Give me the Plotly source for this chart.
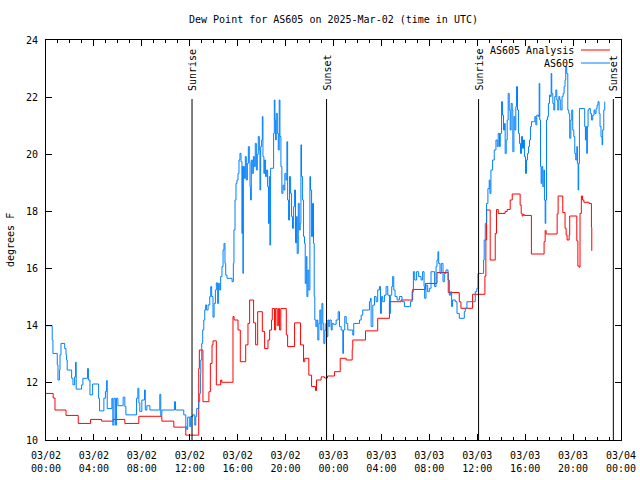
import plotly.graph_objects as go

# ---------------- data (hours since 2025-03-02 00:00 UTC) ----------------
obs_hours = [
    0, 0.52, 0.58, 0.94, 1.0, 1.12, 1.17, 1.25, 1.56, 1.67, 1.72, 1.77, 2.14, 2.25, 2.39, 2.47, 2.52,
    2.97, 3.08, 3.47, 3.54, 3.67, 3.89, 4.39, 4.47, 4.83, 4.96, 5.06, 5.11, 5.5, 5.58, 5.67, 5.79,
    5.88, 6.0, 6.44, 6.58, 6.67, 7.56, 7.67, 7.75, 7.83, 8.0, 8.22, 8.29, 8.42, 8.67, 9.5, 9.58,
    9.67, 10.72, 10.81, 11.5, 11.67, 11.75, 11.83, 12.0, 12.08, 12.25, 12.42, 12.5, 12.58, 12.75,
    12.83, 12.89, 12.92, 13.0, 13.08, 13.17, 13.25, 13.33,
    13.39, 13.53, 13.67, 13.75, 13.83, 13.94, 14.03, 14.14, 14.22, 14.33, 14.39, 14.5, 14.58, 14.69,
    14.78, 14.86, 14.94, 15.0, 15.11, 15.53, 15.64, 15.69, 15.78, 15.86, 15.94, 16.03, 16.11, 16.19,
    16.28, 16.36, 16.39, 16.44, 16.47, 16.56, 16.64, 16.72, 16.81, 16.89, 16.97, 17.03, 17.08, 17.14,
    17.22, 17.31, 17.39, 17.47, 17.56, 17.64, 17.72, 17.81, 17.86, 17.92, 18.0, 18.06, 18.11, 18.19,
    18.25, 18.33, 18.42, 18.5, 18.58, 18.64, 18.69, 18.75, 18.94, 19.0, 19.06, 19.11, 19.17, 19.22,
    19.31, 19.39, 19.47, 19.53, 19.61, 19.69, 19.78, 19.86, 19.94, 20.03, 20.11, 20.17, 20.25, 20.33,
    20.42, 20.5, 20.58, 20.67, 20.75, 20.83, 20.92, 20.97, 21.06, 21.14, 21.22, 21.28, 21.33, 21.42,
    21.5, 21.58, 21.64, 21.72, 21.78, 21.86, 21.94, 22.03, 22.08, 22.17, 22.25, 22.33, 22.39, 22.44,
    22.53, 22.61, 22.69, 22.78, 22.86, 22.94, 23.03, 23.11, 23.19, 23.28, 23.36, 23.44, 23.53, 23.61,
    23.69, 23.81, 23.89, 24.0,
    24.22, 24.39, 24.5, 24.64, 24.78, 24.83, 24.94, 25.06, 25.19, 25.56, 25.61, 25.69, 26.17, 26.31,
    26.44, 26.94, 27.0, 27.08, 27.14, 27.28, 27.42, 27.56, 27.69, 27.83, 27.92, 28.0, 28.11, 28.25,
    28.39, 28.53, 28.67, 28.75, 28.86, 28.94, 29.03, 29.14, 29.31, 29.5, 29.72, 29.92, 30.33, 30.42,
    30.56, 30.67, 30.78, 30.94, 31.11, 31.31, 31.44, 31.56, 31.61, 31.72, 31.86, 32.0, 32.14, 32.33,
    32.44, 32.56, 32.64, 32.72, 32.78, 32.89, 33.0, 33.14, 33.25, 33.39, 33.56, 33.67, 33.78, 33.86,
    33.94, 34.17, 34.31, 34.5, 34.92, 35.0, 35.14, 35.75, 35.83, 35.97, 36.06, 36.44, 36.53,
    36.58, 36.67, 36.78, 36.89, 37.0, 37.06, 37.14, 37.28, 37.42, 37.56, 37.67, 37.75, 37.86, 37.92,
    38.03, 38.11, 38.19, 38.28, 38.33, 38.42, 38.5, 38.58, 38.67, 38.75, 38.83, 38.92, 38.97, 39.06,
    39.14, 39.22, 39.28, 39.36, 39.44, 39.53, 39.61, 39.69, 39.78, 39.86, 39.94, 40.03, 40.11, 40.19,
    40.28, 40.36, 40.44, 40.53, 40.72, 40.81, 40.89, 40.97, 41.11, 41.17, 41.22, 41.28, 41.33, 41.39,
    41.47, 41.56, 41.61, 41.67, 41.72, 41.78, 41.86, 41.94, 42.03, 42.11, 42.17, 42.22, 42.31, 42.39,
    42.47, 42.56, 42.64, 42.72, 42.81, 42.89, 42.97, 43.08, 43.17, 43.25, 43.33, 43.39, 43.47, 43.56,
    43.64, 43.72, 43.81, 43.89, 43.97, 44.06, 44.14, 44.22, 44.31, 44.36, 44.42, 44.47, 44.53, 44.92,
    44.97, 45.03, 45.08, 45.14, 45.19, 45.25, 45.33, 45.44, 45.53, 45.64, 45.75, 45.83, 45.92, 46.0,
    46.08, 46.17, 46.25, 46.33, 46.42, 46.47, 46.56, 46.64,
]
obs_dewpoint = [
    14.0, 13.5, 13.03, 12.63, 12.1, 12.45, 12.98, 13.38, 13.2, 12.98, 12.8, 12.45, 12.16, 11.93, 12.21, 12.72, 11.78,
    11.93, 12.16, 12.5, 12.1, 11.58, 11.96, 11.46, 11.02, 11.46, 11.7, 12.08, 11.1, 11.46, 10.52, 11.46, 10.52,
    11.46, 11.2, 11.5, 11.17, 10.88, 11.46, 11.81, 11.3, 11.0, 11.4, 11.75, 11.05, 11.2, 11.05, 11.6, 10.85,
    11.05, 11.34, 11.05, 10.88, 10.47, 10.37, 10.8, 10.47, 10.82, 10.88, 10.52, 10.82, 11.1, 11.34,
    11.63, 12.33, 12.8, 13.38, 13.85, 14.2, 14.55, 14.73,
    14.55, 14.73, 15.02, 15.37, 15.02, 14.3, 14.78, 15.25, 15.5, 14.78, 15.48, 15.25, 15.72, 16.07,
    16.65, 16.88, 16.18, 15.77, 15.66, 15.54, 16.18, 17.35, 18.4, 18.98, 19.1, 19.33, 19.8, 20.03,
    19.74, 17.23, 19.57, 15.83, 19.57, 19.16, 19.92, 19.1, 19.68, 20.27, 19.74, 18.87, 18.4, 19.8,
    19.33, 19.92, 19.57, 20.38, 19.45, 20.0, 20.62, 20.15, 18.75, 20.27, 20.5, 21.32, 19.92, 19.33,
    19.8, 19.22, 19.45, 18.87, 17.58, 19.22, 16.82, 19.51, 19.51, 20.73, 21.9, 21.2, 20.5, 21.43,
    20.73, 20.15, 21.9, 20.62, 19.57, 18.63, 18.92, 18.75, 19.33, 19.1, 20.44, 18.4, 17.7, 19.22,
    18.63, 17.82, 17.41, 18.17, 18.75, 16.9, 17.82, 16.53, 18.28, 17.35, 17.58, 20.33, 19.22, 18.4,
    17.12, 16.88, 15.48, 16.42, 15.02, 15.95, 15.25, 19.22, 18.75, 17.12, 18.28, 16.88, 15.02, 14.2,
    13.97, 14.2, 13.5, 14.08, 14.55, 13.85, 14.78, 14.08, 13.38, 13.85, 14.08, 13.62, 14.2, 13.97,
    14.2, 13.85, 14.08, 14.05,
    14.2, 14.49, 13.97, 13.85, 13.03, 13.85, 14.32, 14.08, 13.85, 13.85, 13.67, 14.08, 14.2, 14.37,
    14.55, 14.55, 14.84, 14.96, 13.97, 14.72, 15.02, 14.84, 15.25, 15.37, 14.43, 15.02, 14.84, 15.07,
    15.37, 15.07, 14.43, 15.07, 15.37, 15.72, 15.25, 15.02, 14.9, 15.02, 14.84, 14.67, 14.67, 14.84,
    15.19, 15.89, 15.6, 15.89, 15.72, 15.6, 15.89, 15.37, 14.96, 15.42, 15.19, 15.31, 15.89, 15.89,
    15.37, 16.07, 16.3, 16.59, 16.18, 15.83, 16.18, 15.54, 15.83, 15.95, 15.6, 15.07, 15.19, 14.67,
    14.9, 14.84, 14.43, 14.26, 14.49, 14.61, 14.84, 14.84, 15.19, 15.31, 15.83, 15.83, 16.3,
    17.0, 17.58, 18.28, 18.8, 19.1, 18.63, 19.45, 19.8, 20.15, 20.5, 20.27, 20.73, 20.27, 20.73,
    21.84, 21.37, 20.85, 21.08, 20.03, 20.5, 21.2, 22.13, 21.55, 20.85, 21.78, 21.55, 20.09, 21.32,
    20.85, 21.67, 22.37, 21.55, 20.73, 20.38, 20.03, 20.62, 20.21, 20.5, 19.92, 19.33, 19.8, 20.03,
    20.27, 20.5, 20.97, 21.14, 21.14, 21.32, 21.03, 21.37, 21.32, 22.48, 21.2, 19.57, 18.98, 19.57,
    18.87, 19.45, 18.4, 17.58, 18.4, 21.2, 21.32, 21.78, 22.07, 22.02, 22.83, 22.13, 21.78, 21.55,
    22.02, 22.25, 21.9, 21.55, 22.02, 21.9, 21.55, 22.02, 22.13, 22.37, 22.6, 23.07, 22.83, 21.55,
    21.43, 20.56, 21.2, 21.55, 20.85, 20.62, 20.03, 19.8, 20.27, 19.68, 18.75, 19.68, 21.6, 21.6,
    20.97, 20.5, 20.97, 20.03, 20.97, 21.55, 21.6, 21.43, 21.2, 21.37, 21.55, 21.43, 21.6, 21.72,
    21.84, 21.43, 20.97, 20.62, 20.33, 20.85, 21.55, 21.84,
]

ana_hours = [
    0, 0.6, 0.75, 1.67, 2.69, 3.72, 4.64, 5.61, 6.58, 7.75, 9.67, 10.67, 11.67, 12.75, 12.8, 13.1,
    13.6, 13.72, 13.86, 13.94, 14.22, 14.58, 14.67, 15.61, 15.7, 16.03, 16.22, 16.67, 16.86, 17.0,
    17.33, 17.5, 17.67, 18.06, 18.25, 18.53, 18.67, 18.83, 18.89, 19.08, 19.17, 19.3, 19.4, 19.5,
    19.6, 20.06, 20.17, 20.75, 21.25, 21.5, 21.6, 21.94, 22.17, 22.5, 22.58, 22.97, 23.25, 23.5,
    24.08, 24.56, 25.06, 25.56, 25.61, 26.67, 27.69, 28.67, 29.64, 30.61, 31.67, 32.64, 33.58, 34.5,
    34.64, 35.61, 36.64, 36.72, 36.78, 37.08, 37.5, 37.61, 37.75, 38.33, 38.5, 38.75, 38.92, 39.58,
    39.67, 39.75, 39.83, 39.92, 40.52, 41.58, 41.67, 41.75, 42.67, 42.75, 43.14, 43.33, 43.42, 43.5,
    43.67, 43.72, 44.31, 44.4, 44.5, 44.58, 44.69, 44.79, 44.9, 45.33, 45.53, 45.56,
]
ana_dewpoint = [
    11.63, 11.47, 11.05, 10.86, 10.58, 10.72, 10.66, 10.72, 10.58, 10.83, 10.66, 10.45, 10.17, 12.5, 13.15, 11.34,
    11.69, 12.68, 13.33, 13.47, 11.93, 12.1, 12.02, 14.32, 14.2, 13.85, 12.74, 13.33, 14.08, 14.9,
    14.1, 13.33, 14.49, 13.8, 13.2, 13.5, 13.85, 14.2, 14.6, 13.85, 14.6, 14.0, 14.6, 13.85,
    14.6, 13.68, 13.27, 14.1, 13.33, 12.74, 12.86, 12.27, 11.87, 11.73, 12.1, 12.21, 12.17, 12.24,
    12.39, 12.86, 12.8, 13.17, 13.5, 13.82, 14.26, 14.84, 14.9, 15.27, 15.48, 15.86, 15.16, 14.84,
    14.61, 15.1, 15.74, 17.0, 18.05, 16.3, 17.23, 18.07, 17.93, 18.0, 18.07, 18.4, 18.61, 18.22,
    17.93, 17.84, 17.9, 17.86, 16.51, 16.94, 17.33, 17.21, 17.91, 18.54, 17.96, 17.41, 17.17, 17.0,
    17.17, 17.84, 16.97, 16.09, 16.05, 17.93, 18.54, 18.4, 18.32, 18.28, 17.44, 16.62,
]

sun_hours = [12.19, 23.42, 36.11, 47.36]
sun_labels = ["Sunrise", "Sunset", "Sunrise", "Sunset"]

tick_hours = [0, 4, 8, 12, 16, 20, 24, 28, 32, 36, 40, 44, 48]
tick_labels = [
    "03/02<br>00:00", "03/02<br>04:00", "03/02<br>08:00", "03/02<br>12:00", "03/02<br>16:00",
    "03/02<br>20:00", "03/03<br>00:00", "03/03<br>04:00", "03/03<br>08:00", "03/03<br>12:00",
    "03/03<br>16:00", "03/03<br>20:00", "03/04<br>00:00",
]
minor_hours = list(range(0, 49))

title_text = "Dew Point for AS605 on 2025-Mar-02 (time in UTC)"
series_names = ["AS605 Analysis", "AS605"]
series_colors = ["#ff0000", "#0080ff"]

# ---------------- figure ----------------
FONT = dict(family="DejaVu Sans Mono", size=10, color="black")
L, R, T, B = 46, 19, 40, 40
PW, PH = 640 - L - R, 480 - T - B

fig = go.Figure()
fig.add_trace(go.Scatter(x=ana_hours, y=ana_dewpoint, mode="lines", line_shape="hv",
                         line=dict(color=series_colors[0], width=1), name=series_names[0],
                         showlegend=False))
fig.add_trace(go.Scatter(x=obs_hours, y=obs_dewpoint, mode="lines", line_shape="hv",
                         line=dict(color=series_colors[1], width=1), name=series_names[1],
                         showlegend=False))

line_top = (440 - 99) / PH
label_bottom = (440 - 92) / PH
for h, lab in zip(sun_hours, sun_labels):
    fig.add_shape(type="line", xref="x", yref="paper", x0=h, x1=h, y0=0, y1=line_top,
                  line=dict(color="black", width=1))
    fig.add_annotation(x=h, xref="x", y=label_bottom, yref="paper", text=lab, textangle=-90,
                       showarrow=False, xanchor="center", yanchor="bottom", font=FONT,
                       borderpad=0)

# legend (gnuplot style: text then line sample)
leg_rows = [50, 63]
for name, col, py in zip(series_names, series_colors, leg_rows):
    yp = (440 - py) / PH
    fig.add_annotation(x=(575 - L) / PW, xref="paper", y=yp, yref="paper", text=name,
                       showarrow=False, xanchor="right", yanchor="middle", font=FONT, borderpad=0)
    fig.add_shape(type="line", xref="paper", yref="paper", x0=(581 - L) / PW, x1=(610 - L) / PW,
                  y0=yp, y1=yp, line=dict(color=col, width=1))

# title and y label
fig.add_annotation(x=0.5, xref="paper", y=(440 - 19) / PH, yref="paper", text=title_text,
                   showarrow=False, xanchor="center", yanchor="middle", font=FONT)
fig.add_annotation(x=(10 - L) / PW, xref="paper", y=0.5, yref="paper", text="degrees F",
                   textangle=-90, showarrow=False, xanchor="center", yanchor="middle", font=FONT)

fig.update_layout(
    width=640, height=480,
    margin=dict(l=L, r=R, t=T, b=B, pad=0, autoexpand=False),
    paper_bgcolor="white", plot_bgcolor="white",
    font=FONT,
    xaxis=dict(range=[0, 48], tickmode="array", tickvals=tick_hours, ticktext=tick_labels,
               ticks="inside", ticklen=6, tickwidth=1, tickcolor="black", automargin=False,
               showline=True, linecolor="black", linewidth=1, mirror="allticks",
               showgrid=False, zeroline=False, ticklabelstandoff=6,
               minor=dict(tickmode="array", tickvals=minor_hours, ticks="inside", ticklen=3,
                          tickwidth=1, tickcolor="black", showgrid=False)),
    yaxis=dict(range=[10, 24], tickmode="linear", tick0=10, dtick=2, automargin=False,
               ticks="inside", ticklen=6, tickwidth=1, tickcolor="black",
               showline=True, linecolor="black", linewidth=1, mirror="allticks",
               showgrid=False, zeroline=False, ticklabelstandoff=5),
)

fig.write_html("out.html")
